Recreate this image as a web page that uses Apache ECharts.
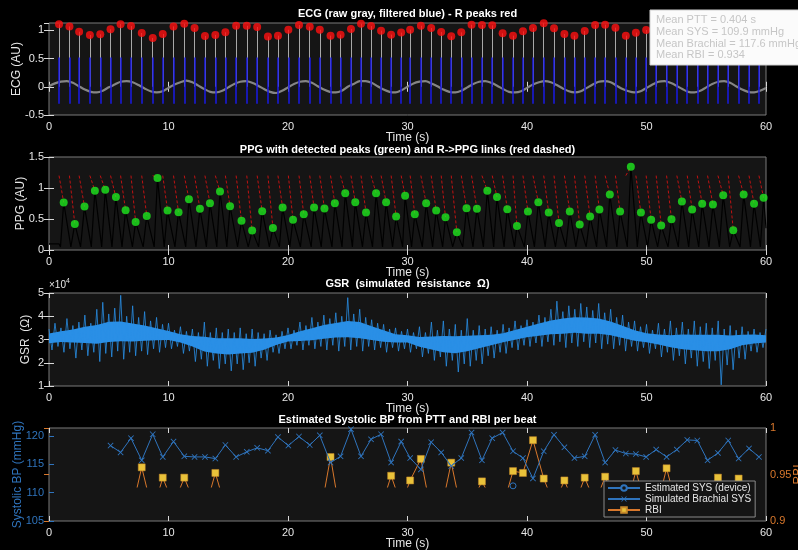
<!DOCTYPE html>
<html>
<head>
<meta charset="UTF-8">
<title>ECG / PPG / GSR / BP</title>
<script src="https://cdn.jsdelivr.net/npm/echarts@6/dist/echarts.min.js"></script>
<style>
    html, body { margin: 0; padding: 0; background: #000; }
    #chart { width: 798px; height: 550px; }
</style>
</head>
<body>
<div id="chart"></div>
<script>
    // ---- ECG ----
    var ecgStep = 0.5;
    var ecgBase = [
        0.01, 0.06, 0.09, 0.10, 0.07, 0.01, -0.05, -0.09, -0.10, -0.07,
        -0.01, 0.04, 0.09, 0.10, 0.08, 0.03, -0.03, -0.08, -0.10, -0.08,
        -0.02, 0.04, 0.08, 0.11, 0.08, 0.02, -0.04, -0.09, -0.10, -0.07,
        -0.01, 0.05, 0.09, 0.10, 0.07, 0.02, -0.04, -0.09, -0.11, -0.07,
        -0.01, 0.05, 0.09, 0.10, 0.07, 0.01, -0.05, -0.09, -0.10, -0.07,
        0.00, 0.05, 0.10, 0.10, 0.07, 0.01, -0.05, -0.09, -0.10, -0.06,
        0.00, 0.06, 0.09, 0.10, 0.06, 0.01, -0.05, -0.09, -0.10, -0.07,
        -0.01, 0.05, 0.09, 0.10, 0.07, 0.02, -0.04, -0.09, -0.10, -0.08,
        -0.02, 0.04, 0.08, 0.10, 0.08, 0.03, -0.03, -0.08, -0.10, -0.08,
        -0.02, 0.04, 0.09, 0.10, 0.08, 0.02, -0.04, -0.08, -0.10, -0.08,
        -0.02, 0.04, 0.09, 0.10, 0.07, 0.02, -0.04, -0.09, -0.10, -0.07,
        -0.01, 0.05, 0.09, 0.10, 0.07, 0.01, -0.05, -0.09, -0.10, -0.07,
        -0.02
    ];
    var rTimes = [
        0.84, 1.71, 2.52, 3.42, 4.29, 5.15, 5.99, 6.86, 7.76, 8.68,
        9.52, 10.42, 11.32, 12.18, 13.05, 13.92, 14.76, 15.66, 16.55, 17.42,
        18.32, 19.16, 20.03, 20.92, 21.82, 22.66, 23.56, 24.40, 25.27, 26.11,
        26.95, 27.79, 28.63, 29.47, 30.22, 31.12, 31.98, 32.82, 33.66, 34.50,
        35.36, 36.23, 37.09, 37.96, 38.83, 39.66, 40.50, 41.40, 42.26, 43.13,
        43.97, 44.83, 45.70, 46.54, 47.40, 48.27, 49.11, 49.97, 50.81, 51.68,
        52.54, 53.41, 54.25, 55.11, 55.98, 56.84, 57.71, 58.58, 59.41
    ];
    var rAmps = [
        1.106, 1.07, 0.976, 0.918, 0.93, 1.018, 1.11, 1.076, 0.953, 0.865,
        0.935, 1.07, 1.118, 1.04, 0.9, 0.918, 0.965, 1.08, 1.08, 1.06,
        0.89, 0.906, 1.01, 1.094, 1.065, 1.01, 0.906, 0.924, 1.024, 1.118,
        1.076, 0.994, 0.924, 0.96, 1.012, 1.082, 1.041, 0.97, 0.894, 0.965,
        1.1, 1.094, 1.088, 0.947, 0.906, 0.982, 1.041, 1.125, 1.035, 0.935,
        0.906, 0.988, 1.094, 1.1, 1.047, 0.906, 0.959, 1.006, 1.08, 1.1,
        1.02, 0.93, 0.9, 0.98, 1.08, 1.1, 1.04, 0.93, 0.95
    ];
    var filtTop = 0.52, filtBottom = -0.3;

    // ---- PPG ----
    var ppgTimes = [
        1.23, 2.16, 2.97, 3.84, 4.71, 5.60, 6.41, 7.25, 8.18, 9.08,
        9.92, 10.84, 11.71, 12.63, 13.47, 14.31, 15.15, 16.11, 17.00, 17.84,
        18.74, 19.55, 20.42, 21.32, 22.18, 23.05, 23.92, 24.79, 25.63, 26.53,
        27.37, 28.21, 29.05, 29.80, 30.61, 31.56, 32.40, 33.18, 34.13, 34.94,
        35.81, 36.68, 37.49, 38.35, 39.16, 40.08, 40.95, 41.82, 42.68, 43.58,
        44.41, 45.28, 46.06, 46.93, 47.79, 48.69, 49.53, 50.39, 51.23, 52.09,
        52.96, 53.82, 54.66, 55.56, 56.42, 57.26, 58.13, 59.00, 59.80
    ];
    var ppgVals = [
        0.766, 0.42, 0.70, 0.955, 0.97, 0.853, 0.642, 0.453, 0.55, 1.16,
        0.637, 0.61, 0.82, 0.664, 0.755, 0.944, 0.707, 0.47, 0.313, 0.626,
        0.356, 0.685, 0.486, 0.577, 0.685, 0.669, 0.755, 0.917, 0.772, 0.604,
        0.917, 0.772, 0.54, 0.874, 0.577, 0.755, 0.637, 0.529, 0.286, 0.675,
        0.664, 0.955, 0.853, 0.658, 0.389, 0.621, 0.772, 0.604, 0.437, 0.621,
        0.41, 0.54, 0.653, 0.896, 0.621, 1.344, 0.604, 0.486, 0.394, 0.496,
        0.783, 0.653, 0.745, 0.734, 0.885, 0.318, 0.896, 0.745, 0.842
    ];
    var linkTop = 1.2, ppgFoot = 0.05;

    // ---- GSR (x1e4 ohm) ----
    var gsrCoreLo = [
        2.75, 2.8, 2.75, 2.7, 2.65, 2.7, 2.75, 2.75, 2.8, 2.85,
        2.9, 2.8, 2.6, 2.35, 2.25, 2.2, 2.25, 2.3, 2.45, 2.7,
        2.85, 2.85, 2.85, 2.9, 2.95, 2.95, 2.9, 2.85, 2.8, 2.8,
        2.8, 2.6, 2.45, 2.3, 2.25, 2.35, 2.5, 2.65, 2.8, 2.9,
        3.0, 3.05, 3.1, 3.1, 3.15, 3.1, 3.1, 3.05, 2.95, 2.85,
        2.8, 2.7, 2.55, 2.45, 2.4, 2.35, 2.35, 2.45, 2.65, 2.75,
        2.8
    ];
    var gsrCoreHi = [
        3.35, 3.45, 3.55, 3.7, 3.8, 3.95, 3.95, 3.85, 3.75, 3.6,
        3.45, 3.3, 3.25, 3.25, 3.2, 3.2, 3.2, 3.15, 3.15, 3.15,
        3.25, 3.45, 3.6, 3.75, 3.85, 3.95, 3.9, 3.7, 3.5, 3.3,
        3.25, 3.2, 3.25, 3.3, 3.3, 3.3, 3.3, 3.3, 3.35, 3.5,
        3.65, 3.8, 3.95, 4.05, 4.1, 4.1, 4.05, 3.9, 3.7, 3.5,
        3.35, 3.3, 3.3, 3.35, 3.35, 3.35, 3.35, 3.3, 3.3, 3.3,
        3.25
    ];
    var gsrSpikeHi = [
        3.45, 3.7, 3.5, 3.9, 3.6, 3.75, 4.05, 3.7, 4.3, 4.6,
        4.1, 4.35, 4.9, 4.0, 4.45, 3.95, 4.2, 3.8, 3.95, 3.65,
        3.7, 3.4, 3.55, 3.35, 3.45, 3.3, 3.75, 3.3, 3.5, 3.3,
        3.45, 3.3, 3.5, 3.25, 3.45, 3.3, 3.25, 3.4, 3.2, 3.35,
        3.5, 3.4, 3.75, 3.6, 3.95, 3.75, 4.05, 3.9, 4.15, 4.0,
        4.8, 4.1, 4.3, 3.95, 3.85, 3.7, 3.65, 3.45, 3.5, 3.35,
        3.45, 3.3, 3.55, 3.3, 3.75, 3.4, 3.8, 3.45, 3.65, 3.4,
        3.9, 3.4, 3.6, 3.45, 3.55, 3.4, 3.65, 3.5, 3.8, 3.6,
        3.85, 3.75, 4.05, 3.95, 4.3, 4.65, 4.2, 4.45, 4.3, 4.55,
        4.4, 4.25, 4.55, 4.15, 4.3, 3.95, 4.05, 3.75, 3.8, 3.55,
        3.65, 3.4, 3.7, 3.45, 3.8, 3.5, 3.75, 3.45, 3.8, 3.55,
        3.7, 3.5, 3.8, 3.45, 3.6, 3.4, 3.55, 3.35, 3.45, 3.3,
        3.45
    ];
    var gsrSpikeLo = [
        2.55, 2.7, 2.45, 2.6, 2.2, 2.55, 2.3, 2.45, 2.05, 2.4,
        2.25, 2.5, 2.15, 2.45, 2.3, 2.5, 2.35, 2.6, 2.45, 2.65,
        2.6, 2.7, 2.4, 2.5, 2.05, 2.15, 1.85, 2.1, 1.75, 1.95,
        1.65, 1.95, 1.7, 2.0, 1.85, 2.2, 2.1, 2.45, 2.4, 2.6,
        2.6, 2.75, 2.55, 2.75, 2.6, 2.7, 2.55, 2.75, 2.5, 2.7,
        2.55, 2.7, 2.5, 2.7, 2.55, 2.65, 2.45, 2.65, 2.5, 2.6,
        2.45, 2.6, 2.25, 2.4, 2.1, 2.25, 1.85, 2.1, 1.6, 1.95,
        1.85, 2.1, 1.95, 2.3, 2.2, 2.45, 2.4, 2.65, 2.55, 2.75,
        2.7, 2.85, 2.7, 2.9, 2.75, 2.9, 2.65, 2.85, 2.7, 2.9,
        2.65, 2.85, 2.6, 2.8, 2.6, 2.75, 2.5, 2.7, 2.5, 2.65,
        2.4, 2.6, 2.25, 2.45, 2.1, 2.3, 1.95, 2.2, 1.85, 2.05,
        1.75, 2.1, 1.05, 1.9, 1.7, 2.2, 2.15, 2.5, 2.45, 2.65,
        2.7
    ];

    // ---- BP / RBI per beat (aligned with rTimes) ----
    var brachialSys = [
        null, null, null, null, null,
        118.3, 117.1, 119.6, 115.7, 120.3,
        116.3, 119.0, 116.4, 116.3, 116.3,
        116.0, 118.4, 116.3, 117.2, 117.9,
        117.4, 119.8, 118.3, 119.9, 118.4,
        120.1, 115.3, 116.4, 121.2, 116.4,
        119.4, 120.3, 115.3, 119.0, 116.1,
        114.1, 118.9, 117.1, 114.7, 116.1,
        120.6, 115.7, 119.6, 120.6, 117.3,
        116.1, 112.5, 117.3, 120.2, 118.0,
        116.1, 116.4, 120.2, 115.3, 117.5,
        116.9, 116.8, 116.3, 117.6, 116.3,
        117.6, 119.3, 119.2, 115.7, 117.0,
        119.2, 116.0, 117.8, 116.3
    ];
    var rbi = [
        null, null, null, null, null,
        0.915, 0.912, 0.908, 0.958, 0.910,
        0.947, 0.918, 0.947, 0.920, 0.912,
        0.952, 0.915, 0.920, 0.918, 0.922,
        0.918, 0.920, 0.915, 0.918, 0.912,
        0.905, 0.969, 0.905, 0.915, 0.918,
        0.920, 0.915, 0.949, 0.918, 0.944,
        0.967, 0.910, 0.912, 0.963, 0.912,
        0.920, 0.943, 0.922, 0.915, 0.954,
        0.952, 0.987, 0.946, 0.918, 0.944,
        0.918, 0.947, 0.920, 0.948, 0.918,
        0.912, 0.954, 0.915, 0.912, 0.957,
        0.915, 0.918, 0.920, 0.918, 0.947,
        0.918, 0.946, 0.920, 0.918
    ];
    var deviceSys = [[38.83, 111.2]];

    var statsLines = ['Mean PTT = 0.404 s', 'Mean SYS = 109.9 mmHg', 'Mean Brachial = 117.6 mmHg', 'Mean RBI = 0.934'];

    // ---- build series data ----
    var ecgBaseData = ecgBase.map(function (v, i) { return [i * ecgStep, v]; });
    var rawSpikes = rTimes.map(function (t, i) { return { coords: [[t, 0], [t, rAmps[i]]] }; });
    var filtSpikes = rTimes.map(function (t) { return { coords: [[t, filtBottom], [t, filtTop]] }; });
    var rPeaks = rTimes.map(function (t, i) { return [t, rAmps[i]]; });

    var ppgWave = [[0, 0.1], [rTimes[0], 0.1]];
    rTimes.forEach(function (t, i) {
        ppgWave.push([t + 0.12, ppgFoot]);
        ppgWave.push([ppgTimes[i], ppgVals[i]]);
    });
    ppgWave.push([60, 0.35]);
    var links = rTimes.map(function (t, i) { return { coords: [[t, linkTop], [ppgTimes[i], ppgVals[i]]] }; });
    var ppgPeaks = ppgTimes.map(function (t, i) { return [t, ppgVals[i]]; });

    var gsrBand = gsrCoreHi.map(function (v, i) { return [i, v * 1e4, gsrCoreLo[i] * 1e4]; });
    var gsrZig = [];
    gsrSpikeHi.forEach(function (v, i) {
        gsrZig.push([i * 0.5, v * 1e4]);
        if (i < gsrSpikeHi.length - 1) gsrZig.push([i * 0.5 + 0.25, gsrSpikeLo[i] * 1e4]);
    });

    var brachialData = rTimes.map(function (t, i) { return [t, brachialSys[i]]; });
    var rbiData = rTimes.map(function (t, i) { return [t, rbi[i]]; });

    // ---- styling helpers ----
    var FONT = '"Liberation Sans", Arial, sans-serif';
    var txt = '#e6e6e6', boxCol = '#7a7a7a', tickCol = '#d8d8d8', axBg = '#151515';
    var bpBlue = '#2f74bd', rbiOrange = '#d9782c', gsrBlue = '#2a8fe6';

    function grid(top, h, show) {
        return {
            left: 49, right: 32, top: top, height: h, show: show !== false,
            backgroundColor: axBg, borderColor: boxCol, borderWidth: 1,
            containLabel: false, outerBoundsMode: 'none'
        };
    }
    function xMain(g) {
        return {
            type: 'value', gridIndex: g, min: 0, max: 60, interval: 10, position: 'bottom',
            name: 'Time (s)', nameLocation: 'middle', nameGap: 17, nameMoveOverlap: false,
            nameTextStyle: { color: txt, fontSize: 12, fontFamily: FONT },
            axisLine: { show: false },
            axisTick: { show: true, inside: true, length: 5, lineStyle: { color: tickCol } },
            axisLabel: { color: txt, fontSize: 11, margin: 6, fontFamily: FONT },
            splitLine: { show: false }
        };
    }
    function xTop(g) {
        return {
            type: 'value', gridIndex: g, min: 0, max: 60, interval: 10, position: 'top',
            axisLine: { show: false },
            axisTick: { show: true, inside: true, length: 5, lineStyle: { color: tickCol } },
            axisLabel: { show: false }, splitLine: { show: false }
        };
    }
    function yLeft(g, min, max, interval, name, nameGap, showMax, extra) {
        var ax = {
            type: 'value', gridIndex: g, min: min, max: max, interval: interval, position: 'left',
            name: name, nameLocation: 'middle', nameGap: nameGap, nameMoveOverlap: false,
            nameTextStyle: { color: txt, fontSize: 12, fontFamily: FONT },
            axisLine: { show: false },
            axisTick: { show: true, inside: true, length: 5, lineStyle: { color: tickCol } },
            axisLabel: { color: txt, fontSize: 11, margin: 5, fontFamily: FONT, showMaxLabel: showMax },
            splitLine: { show: false }
        };
        if (extra) extra(ax);
        return ax;
    }
    function yRightTicks(g, min, max, interval) {
        return {
            type: 'value', gridIndex: g, min: min, max: max, interval: interval, position: 'right',
            axisLine: { show: false },
            axisTick: { show: true, inside: true, length: 5, lineStyle: { color: tickCol } },
            axisLabel: { show: false }, splitLine: { show: false }
        };
    }
    function title(text, y) {
        return {
            type: 'text', x: 407.5, y: y, z: 50,
            style: { text: text, fill: '#ffffff', font: 'bold 11px ' + FONT, textAlign: 'center', textVerticalAlign: 'middle', align: 'center', verticalAlign: 'middle' }
        };
    }

    var xCross = 'path://M0,1L1,0L5,4L9,0L10,1L6,5L10,9L9,10L5,6L1,10L0,9L4,5Z';

    var graphics = [
        title('ECG (raw gray, filtered blue) - R peaks red', 14),
        title('PPG with detected peaks (green) and R->PPG links (red dashed)', 149.5),
        title('GSR  (simulated  resistance  \u03A9)', 283.5),
        title('Estimated Systolic BP from PTT and RBI per beat', 420),
        { type: 'text', x: 49, y: 285, z: 50, style: { text: '\u00D710', fill: txt, font: '10px ' + FONT, textVerticalAlign: 'middle', verticalAlign: 'middle' } },
        { type: 'text', x: 66, y: 281, z: 50, style: { text: '4', fill: txt, font: '7px ' + FONT, textVerticalAlign: 'middle', verticalAlign: 'middle' } },
        { type: 'rect', z: 90, shape: { x: 650, y: 10, width: 160, height: 55 }, style: { fill: '#fbfbfb', stroke: '#d0d0d0', lineWidth: 1 } }
    ];
    statsLines.forEach(function (s, i) {
        graphics.push({ type: 'text', x: 656, y: 20 + i * 11.8, z: 91, style: { text: s, fill: '#c6c6c6', font: '11px ' + FONT, textVerticalAlign: 'middle', verticalAlign: 'middle' } });
    });

    var chart = echarts.init(document.getElementById('chart'), null, { renderer: 'canvas' });
    chart.setOption({
        backgroundColor: '#000',
        animation: false,
        textStyle: { fontFamily: FONT },
        grid: [grid(23, 92), grid(157, 93), grid(293, 93), grid(428, 93), grid(428, 59, false)],
        xAxis: [
            xMain(0), xTop(0), xMain(1), xTop(1), xMain(2), xTop(2), xMain(3), xTop(3),
            { type: 'value', gridIndex: 4, min: 0, max: 60, show: false }
        ],
        yAxis: [
            yLeft(0, -0.5, 1.13, 0.5, 'ECG (AU)', 26, false), yRightTicks(0, -0.5, 1.13, 0.5),
            yLeft(1, 0, 1.5, 0.5, 'PPG (AU)', 22, true), yRightTicks(1, 0, 1.5, 0.5),
            yLeft(2, 10000, 50000, 10000, 'GSR  (\u03A9)', 17, true, function (ax) {
                ax.axisLabel.formatter = function (v) { return String(v / 10000); };
            }), yRightTicks(2, 10000, 50000, 10000),
            yLeft(3, 105, 121.4, 5, 'Systolic BP (mmHg)', 25, false, function (ax) {
                ax.axisLabel.color = bpBlue;
                ax.nameTextStyle.color = bpBlue;
                ax.axisTick.lineStyle.color = bpBlue;
            }),
            {
                type: 'value', gridIndex: 3, min: 0.9, max: 1, interval: 0.05, position: 'right',
                name: 'RBI', nameLocation: 'middle', nameGap: 27, nameMoveOverlap: false,
                nameTextStyle: { color: rbiOrange, fontSize: 12, fontFamily: FONT },
                axisLine: { show: false },
                axisTick: { show: true, inside: true, length: 5, lineStyle: { color: rbiOrange } },
                axisLabel: { color: rbiOrange, fontSize: 11, margin: 4, fontFamily: FONT },
                splitLine: { show: false }
            },
            { type: 'value', gridIndex: 4, min: 0.937, max: 1, show: false }
        ],
        legend: {
            data: ['Estimated SYS (device)', 'Simulated Brachial SYS', 'RBI'],
            orient: 'vertical', left: 604, top: 481, itemGap: 1, itemWidth: 32, itemHeight: 7,
            padding: [2, 4, 2, 3], backgroundColor: axBg, borderColor: '#8a8a8a', borderWidth: 1,
            borderRadius: 0, selectedMode: false,
            textStyle: { color: txt, fontSize: 10, fontFamily: FONT }, z: 20
        },
        graphic: graphics,
        series: [
            // ECG
            {
                type: 'line', xAxisIndex: 0, yAxisIndex: 0, data: ecgBaseData, smooth: 0.3,
                showSymbol: false, lineStyle: { color: '#858585', width: 2.2 }, z: 2
            },
            {
                type: 'lines', coordinateSystem: 'cartesian2d', xAxisIndex: 0, yAxisIndex: 0,
                data: rawSpikes, lineStyle: { color: '#a8a8a8', width: 1, opacity: 1 }, z: 3
            },
            {
                type: 'lines', coordinateSystem: 'cartesian2d', xAxisIndex: 0, yAxisIndex: 0,
                data: filtSpikes, lineStyle: { color: '#1a1ae6', width: 1.5, opacity: 1 }, z: 4
            },
            {
                type: 'scatter', xAxisIndex: 0, yAxisIndex: 0, data: rPeaks, symbolSize: 8,
                itemStyle: { color: '#ff1010' }, z: 5
            },
            // PPG
            {
                type: 'line', xAxisIndex: 2, yAxisIndex: 2, data: ppgWave, showSymbol: false,
                lineStyle: { color: '#000000', width: 1.2 }, z: 2
            },
            {
                type: 'lines', coordinateSystem: 'cartesian2d', xAxisIndex: 2, yAxisIndex: 2,
                data: links, lineStyle: { color: '#c01212', width: 1, type: [3, 2], opacity: 1 }, z: 3
            },
            {
                type: 'scatter', xAxisIndex: 2, yAxisIndex: 2, data: ppgPeaks, symbolSize: 8,
                itemStyle: { color: '#1ee81e' }, z: 5
            },
            // GSR: dense core band (polygon inside the hi/lo envelopes) + spike trace
            {
                type: 'custom', xAxisIndex: 4, yAxisIndex: 4, data: gsrBand, clip: true, z: 2,
                encode: { x: 0, y: [1, 2] },
                renderItem: function (params, api) {
                    if (params.dataIndex !== 0) return;
                    var pts = [];
                    gsrBand.forEach(function (d) {
                        pts.push(api.coord([d[0], d[1] - 0.15 * (d[1] - d[2])]));
                    });
                    for (var k = gsrBand.length - 1; k >= 0; k--) {
                        var d = gsrBand[k];
                        pts.push(api.coord([d[0], d[2] + 0.15 * (d[1] - d[2])]));
                    }
                    return { type: 'polygon', shape: { points: pts }, style: { fill: gsrBlue } };
                }
            },
            {
                type: 'line', xAxisIndex: 4, yAxisIndex: 4, data: gsrZig, showSymbol: false,
                lineStyle: { color: gsrBlue, width: 0.8 }, z: 3
            },
            // BP + RBI
            {
                name: 'Estimated SYS (device)', type: 'line', xAxisIndex: 6, yAxisIndex: 6, data: deviceSys,
                symbol: 'circle', symbolSize: 6, showAllSymbol: true,
                lineStyle: { color: bpBlue, width: 1 },
                itemStyle: { color: axBg, borderColor: bpBlue, borderWidth: 1 }, z: 4
            },
            {
                name: 'Simulated Brachial SYS', type: 'line', xAxisIndex: 6, yAxisIndex: 6, data: brachialData,
                symbol: xCross, symbolSize: 6, showAllSymbol: true,
                lineStyle: { color: bpBlue, width: 1 }, itemStyle: { color: bpBlue }, z: 4
            },
            {
                name: 'RBI', type: 'line', xAxisIndex: 8, yAxisIndex: 8, data: rbiData,
                symbol: 'rect', symbolSize: 7, showAllSymbol: true, clip: true,
                lineStyle: { color: rbiOrange, width: 1 },
                itemStyle: { color: '#e9c23a', borderColor: '#c98a2a', borderWidth: 0.5 }, z: 3
            }
        ]
    });
</script>
</body>
</html>
